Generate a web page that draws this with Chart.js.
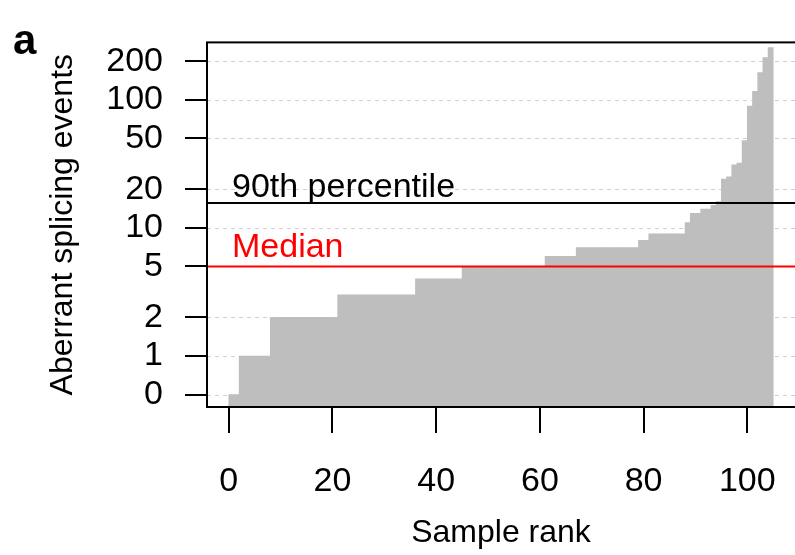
<!DOCTYPE html>
<html>
<head>
<meta charset="utf-8">
<script src="https://cdn.jsdelivr.net/npm/chart.js@4/dist/chart.umd.min.js"></script>
<style>
  html, body { margin: 0; padding: 0; background: #fff; }
</style>
</head>
<body>
<canvas id="rank-plot" width="795" height="555"></canvas>
<script>
// aberrant splicing events per sample, sorted by rank
const counts = [
  0, 0,
  1, 1, 1, 1, 1, 1,
  2, 2, 2, 2, 2, 2, 2, 2, 2, 2, 2, 2, 2,
  3, 3, 3, 3, 3, 3, 3, 3, 3, 3, 3, 3, 3, 3, 3,
  4, 4, 4, 4, 4, 4, 4, 4, 4,
  5, 5, 5, 5, 5, 5, 5, 5, 5, 5, 5, 5, 5, 5, 5, 5,
  6, 6, 6, 6, 6, 6,
  7, 7, 7, 7, 7, 7, 7, 7, 7, 7, 7, 7,
  8, 8,
  9, 9, 9, 9, 9, 9, 9,
  11, 13, 13, 14, 14, 15, 16,
  24, 25, 31, 32, 48, 89, 116, 163, 213, 255
];
const ranks = counts.map((c, i) => i + 1);

const xTicks = [0, 20, 40, 60, 80, 100];
const yTicks = [0, 1, 2, 5, 10, 20, 50, 100, 200];

const medianValue = 5;
const pct90Value = 15.6;

// zero has no log, it is drawn one doubling below 1
const zeroAt = 0.5;
const toLog = v => (v === 0 ? zeroAt : v);

const FONT = "'Liberation Sans', Arial, sans-serif";

const decor = {
  id: 'decor',
  beforeDatasetsDraw(chart) {
    const { ctx, chartArea: a, scales: { y } } = chart;
    ctx.save();
    ctx.strokeStyle = '#d0d0d0';
    ctx.lineWidth = 1;
    ctx.setLineDash([4, 4]);
    yTicks.forEach(v => {
      const py = Math.round(y.getPixelForValue(toLog(v))) + 0.5;
      ctx.beginPath();
      ctx.moveTo(a.left, py);
      ctx.lineTo(a.right, py);
      ctx.stroke();
    });
    ctx.restore();
  },
  afterDatasetsDraw(chart) {
    const { ctx, chartArea: a, scales: { x, y } } = chart;
    ctx.save();
    const pyMed = y.getPixelForValue(medianValue);
    const py90 = y.getPixelForValue(pct90Value);

    ctx.lineWidth = 2;
    ctx.strokeStyle = '#000';
    ctx.beginPath();
    ctx.moveTo(a.left, py90);
    ctx.lineTo(a.right, py90);
    ctx.stroke();
    ctx.strokeStyle = '#ff0000';
    ctx.beginPath();
    ctx.moveTo(a.left, pyMed);
    ctx.lineTo(a.right, pyMed);
    ctx.stroke();

    ctx.font = '34px ' + FONT;
    ctx.textAlign = 'left';
    ctx.textBaseline = 'alphabetic';
    ctx.fillStyle = '#000';
    ctx.fillText('90th percentile', 232, py90 - 6);
    ctx.fillStyle = '#ff0000';
    ctx.fillText('Median', 232, pyMed - 9);

    // box around the plot, right side runs off the page
    ctx.strokeStyle = '#000';
    ctx.lineWidth = 2;
    ctx.strokeRect(a.left, a.top, a.right - a.left + 4, a.bottom - a.top);

    ctx.fillStyle = '#000';
    ctx.font = 'bold 42px ' + FONT;
    ctx.fillText('a', 13, 54);
    ctx.restore();
  }
};

const ctx = document.getElementById('rank-plot').getContext('2d');

const myChart = new Chart(ctx, {
  type: 'bar',
  data: {
    datasets: [{
      label: 'Aberrant splicing events',
      data: ranks.map((r, i) => ({ x: r - 0.5, y: toLog(counts[i]) })),
      backgroundColor: '#bebebe',
      borderWidth: 0,
      barPercentage: 1,
      categoryPercentage: 1
    }]
  },
  options: {
    responsive: false,
    animation: false,
    devicePixelRatio: 1,
    layout: { padding: { top: 42, right: 0, bottom: 0, left: 0 } },
    plugins: { legend: { display: false }, tooltip: { enabled: false } },
    scales: {
      x: {
        type: 'linear',
        min: -4.2,
        max: 109.2,
        offset: false,
        afterBuildTicks: s => { s.ticks = xTicks.map(v => ({ value: v })); },
        afterFit: s => {
          s.height = 148;
          s.paddingLeft = 0;
          s.paddingRight = 0;
        },
        ticks: {
          font: { family: FONT, size: 34 },
          color: '#000',
          padding: 28,
          maxRotation: 0,
          autoSkip: false
        },
        grid: {
          offset: false,
          drawOnChartArea: false,
          drawTicks: true,
          tickLength: 26,
          tickColor: '#000',
          lineWidth: 2,
          tickWidth: 2
        },
        border: { display: false },
        title: {
          display: true,
          text: 'Sample rank',
          color: '#000',
          font: { family: FONT, size: 32 },
          padding: { top: 0, bottom: 3 }
        }
      },
      y: {
        type: 'logarithmic',
        min: 0.4,
        max: 280,
        afterBuildTicks: s => { s.ticks = yTicks.map(v => ({ value: toLog(v) })); },
        afterFit: s => { s.width = 207; },
        ticks: {
          font: { family: FONT, size: 34 },
          color: '#000',
          padding: 22,
          autoSkip: false,
          callback: v => (v === zeroAt ? '0' : String(v))
        },
        grid: {
          drawOnChartArea: false,
          drawTicks: true,
          tickLength: 22,
          tickColor: '#000',
          lineWidth: 2,
          tickWidth: 2
        },
        border: { display: false },
        title: {
          display: true,
          text: 'Aberrant splicing events',
          color: '#000',
          font: { family: FONT, size: 32 },
          padding: { top: 44, bottom: 0 }
        }
      }
    }
  },
  plugins: [decor]
});
</script>
</body>
</html>
